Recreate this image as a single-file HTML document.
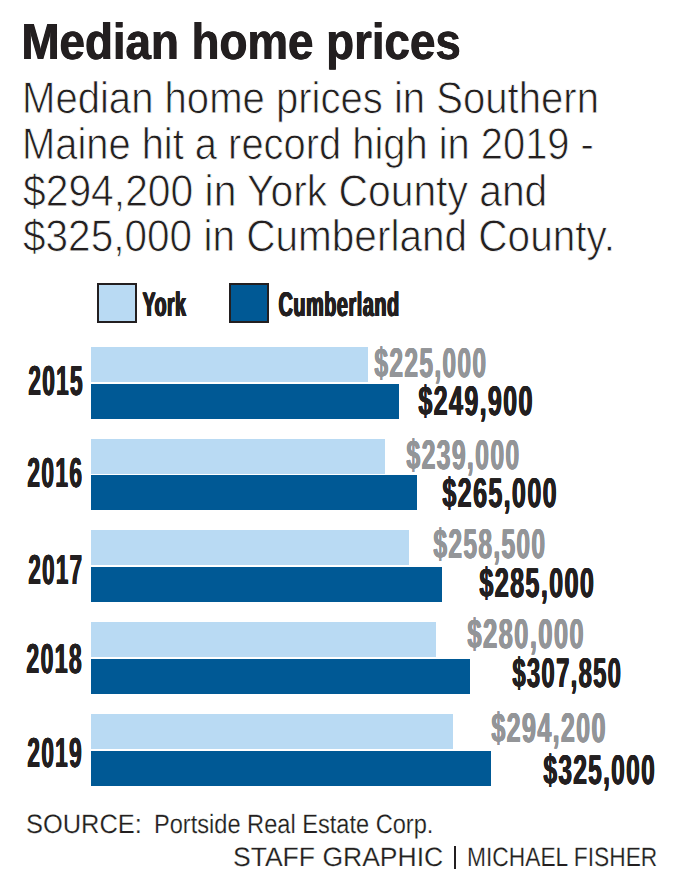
<!DOCTYPE html>
<html><head><meta charset="utf-8"><title>Median home prices</title>
<style>
html,body{margin:0;padding:0;background:#fff;}
body{width:679px;height:877px;position:relative;overflow:hidden;font-family:"Liberation Sans", Arial, sans-serif;}
.t{position:absolute;white-space:pre;line-height:1;transform-origin:0 0;text-rendering:geometricPrecision;}
.b{position:absolute;}
.sw{position:absolute;box-sizing:border-box;border:2px solid #231f20;}
</style></head><body>
<div class="b" style="left:91.0px;top:347.0px;width:276.9px;height:35.0px;background:#b9daf3"></div>
<div class="b" style="left:91.0px;top:383.7px;width:307.6px;height:35.0px;background:#005995"></div>
<div class="b" style="left:91.0px;top:438.7px;width:294.2px;height:35.0px;background:#b9daf3"></div>
<div class="b" style="left:91.0px;top:475.4px;width:326.2px;height:35.0px;background:#005995"></div>
<div class="b" style="left:91.0px;top:530.4px;width:318.2px;height:35.0px;background:#b9daf3"></div>
<div class="b" style="left:91.0px;top:567.1px;width:350.8px;height:35.0px;background:#005995"></div>
<div class="b" style="left:91.0px;top:622.1px;width:344.6px;height:35.0px;background:#b9daf3"></div>
<div class="b" style="left:91.0px;top:658.8px;width:378.9px;height:35.0px;background:#005995"></div>
<div class="b" style="left:91.0px;top:713.8px;width:362.1px;height:35.0px;background:#b9daf3"></div>
<div class="b" style="left:91.0px;top:750.5px;width:400.0px;height:35.0px;background:#005995"></div>
<div class="sw" style="left:97.3px;top:283.3px;width:39.7px;height:39.5px;background:#b9daf3"></div>
<div class="sw" style="left:229px;top:283.3px;width:40px;height:39.5px;background:#005995"></div>
<div class="b" style="left:454.3px;top:846px;width:1.8px;height:22.6px;background:#231f20"></div>
<div class="t" style="left:21.02px;top:17.00px;font-size:50.93px;font-weight:700;color:#231f20;transform:scaleX(0.8975);text-shadow:0.50px 0 0 currentColor,1.00px 0 0 currentColor;">Median home prices</div>
<div class="t" style="left:22.37px;top:77.00px;font-size:44.25px;font-weight:400;color:#231f20;transform:scaleX(0.9056);-webkit-text-stroke:0.8px #fff;">Median home prices in Southern</div>
<div class="t" style="left:22.39px;top:123.00px;font-size:44.25px;font-weight:400;color:#231f20;transform:scaleX(0.9011);-webkit-text-stroke:0.8px #fff;">Maine hit a record high in 2019 -</div>
<div class="t" style="left:23.36px;top:170.00px;font-size:44.25px;font-weight:400;color:#231f20;transform:scaleX(0.9225);-webkit-text-stroke:0.8px #fff;">$294,200 in York County and</div>
<div class="t" style="left:23.36px;top:215.00px;font-size:44.25px;font-weight:400;color:#231f20;transform:scaleX(0.9163);-webkit-text-stroke:0.8px #fff;">$325,000 in Cumberland County.</div>
<div class="t" style="left:142.21px;top:288.00px;font-size:34.28px;font-weight:700;color:#231f20;transform:scaleX(0.5660);letter-spacing:1.0px;text-shadow:0.50px 0 0 currentColor,1.00px 0 0 currentColor,1.50px 0 0 currentColor,2.00px 0 0 currentColor;">York</div>
<div class="t" style="left:278.38px;top:288.00px;font-size:34.28px;font-weight:700;color:#231f20;transform:scaleX(0.5771);letter-spacing:1.0px;text-shadow:0.50px 0 0 currentColor,1.00px 0 0 currentColor,1.50px 0 0 currentColor,2.00px 0 0 currentColor;">Cumberland</div>
<div class="t" style="left:28.02px;top:360.00px;font-size:41.95px;font-weight:700;color:#231f20;transform:scaleX(0.5370);letter-spacing:2.5px;text-shadow:0.50px 0 0 currentColor,1.00px 0 0 currentColor,1.50px 0 0 currentColor;">2015</div>
<div class="t" style="left:27.21px;top:452.00px;font-size:41.95px;font-weight:700;color:#231f20;transform:scaleX(0.5410);letter-spacing:2.5px;text-shadow:0.50px 0 0 currentColor,1.00px 0 0 currentColor,1.50px 0 0 currentColor;">2016</div>
<div class="t" style="left:28.33px;top:549.00px;font-size:41.95px;font-weight:700;color:#231f20;transform:scaleX(0.5324);letter-spacing:2.5px;text-shadow:0.50px 0 0 currentColor,1.00px 0 0 currentColor,1.50px 0 0 currentColor;">2017</div>
<div class="t" style="left:26.40px;top:638.00px;font-size:41.95px;font-weight:700;color:#231f20;transform:scaleX(0.5486);letter-spacing:2.5px;text-shadow:0.50px 0 0 currentColor,1.00px 0 0 currentColor,1.50px 0 0 currentColor;">2018</div>
<div class="t" style="left:27.22px;top:732.00px;font-size:41.95px;font-weight:700;color:#231f20;transform:scaleX(0.5381);letter-spacing:2.5px;text-shadow:0.50px 0 0 currentColor,1.00px 0 0 currentColor,1.50px 0 0 currentColor;">2019</div>
<div class="t" style="left:373.67px;top:342.00px;font-size:41.43px;font-weight:700;color:#939598;transform:scaleX(0.5934);letter-spacing:2.2px;text-shadow:0.43px 0 0 currentColor,0.87px 0 0 currentColor,1.30px 0 0 currentColor;">$225,000</div>
<div class="t" style="left:418.36px;top:380.00px;font-size:41.43px;font-weight:700;color:#231f20;transform:scaleX(0.6062);letter-spacing:2.2px;text-shadow:0.43px 0 0 currentColor,0.87px 0 0 currentColor,1.30px 0 0 currentColor;">$249,900</div>
<div class="t" style="left:405.57px;top:434.00px;font-size:41.43px;font-weight:700;color:#939598;transform:scaleX(0.5998);letter-spacing:2.2px;text-shadow:0.43px 0 0 currentColor,0.87px 0 0 currentColor,1.30px 0 0 currentColor;">$239,000</div>
<div class="t" style="left:441.56px;top:472.00px;font-size:41.43px;font-weight:700;color:#231f20;transform:scaleX(0.6068);letter-spacing:2.2px;text-shadow:0.43px 0 0 currentColor,0.87px 0 0 currentColor,1.30px 0 0 currentColor;">$265,000</div>
<div class="t" style="left:432.67px;top:523.00px;font-size:41.43px;font-weight:700;color:#939598;transform:scaleX(0.5940);letter-spacing:2.2px;text-shadow:0.43px 0 0 currentColor,0.87px 0 0 currentColor,1.30px 0 0 currentColor;">$258,500</div>
<div class="t" style="left:478.66px;top:562.00px;font-size:41.43px;font-weight:700;color:#231f20;transform:scaleX(0.6084);letter-spacing:2.2px;text-shadow:0.43px 0 0 currentColor,0.87px 0 0 currentColor,1.30px 0 0 currentColor;">$285,000</div>
<div class="t" style="left:466.66px;top:613.00px;font-size:41.43px;font-weight:700;color:#939598;transform:scaleX(0.6180);letter-spacing:2.2px;text-shadow:0.43px 0 0 currentColor,0.87px 0 0 currentColor,1.30px 0 0 currentColor;">$280,000</div>
<div class="t" style="left:511.79px;top:652.00px;font-size:41.43px;font-weight:700;color:#231f20;transform:scaleX(0.5769);letter-spacing:2.2px;text-shadow:0.43px 0 0 currentColor,0.87px 0 0 currentColor,1.30px 0 0 currentColor;">$307,850</div>
<div class="t" style="left:490.66px;top:707.00px;font-size:41.43px;font-weight:700;color:#939598;transform:scaleX(0.6062);letter-spacing:2.2px;text-shadow:0.43px 0 0 currentColor,0.87px 0 0 currentColor,1.30px 0 0 currentColor;">$294,200</div>
<div class="t" style="left:542.68px;top:749.00px;font-size:41.43px;font-weight:700;color:#231f20;transform:scaleX(0.5918);letter-spacing:2.2px;text-shadow:0.43px 0 0 currentColor,0.87px 0 0 currentColor,1.30px 0 0 currentColor;">$325,000</div>
<div class="t" style="left:25.82px;top:811.00px;font-size:26.48px;font-weight:400;color:#231f20;transform:scaleX(0.9596);-webkit-text-stroke:0.2px #fff;">SOURCE:</div>
<div class="t" style="left:154.17px;top:811.00px;font-size:26.48px;font-weight:400;color:#231f20;transform:scaleX(0.8914);-webkit-text-stroke:0.2px #fff;">Portside Real Estate Corp.</div>
<div class="t" style="left:232.65px;top:844.00px;font-size:26.48px;font-weight:400;color:#231f20;transform:scaleX(1.0020);-webkit-text-stroke:0.2px #fff;">STAFF GRAPHIC</div>
<div class="t" style="left:467.33px;top:844.00px;font-size:26.48px;font-weight:400;color:#231f20;transform:scaleX(0.8607);-webkit-text-stroke:0.2px #fff;">MICHAEL FISHER</div>
</body></html>
